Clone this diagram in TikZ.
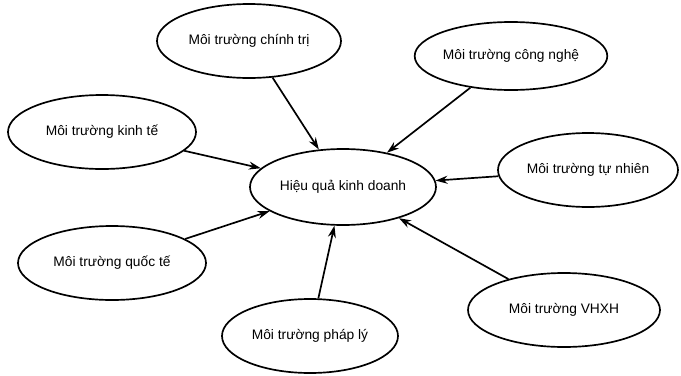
\documentclass[tikz,border=0pt]{standalone}
\usepackage{fontspec}
\setmainfont{Liberation Sans}
\usepackage{tikz}
\usetikzlibrary{shapes.geometric,arrows.meta,positioning}

\tikzset{
    envbox/.style={ellipse, draw, line width=1.2pt, minimum width=4.7cm, minimum height=1.85cm, inner sep=0pt, font=\fontsize{9.8}{11}\selectfont},
    link/.style={-{Stealth[length=3mm,width=2mm]}, line width=1.2pt}
}

\begin{document}
\begin{tikzpicture}
        \useasboundingbox (0,0) rectangle (17.025,-9.375);
        % center
        \node[envbox, minimum width=4.65cm, minimum height=1.9cm] (hq) at (8.575,-4.675) {Hiệu quả kinh doanh};
        % surrounding factors
        \node[envbox, minimum width=4.6cm] (ct) at (6.225,-1.025) {Môi trường chính trị};
        \node[envbox, minimum width=4.8cm, minimum height=1.7cm] (cn) at (12.775,-1.4) {Môi trường công nghệ};
        \node[envbox] (kt) at (2.55,-3.3) {Môi trường kinh tế};
        \node[envbox, minimum width=4.5cm] (tn) at (14.7,-4.25) {Môi trường tự nhiên};
        \node[envbox] (qt) at (2.8,-6.575) {Môi trường quốc tế};
        \node[envbox, minimum width=4.4cm] (pl) at (7.75,-8.4) {Môi trường pháp lý};
        \node[envbox, minimum width=4.8cm] (vh) at (14.1,-7.75) {Môi trường VHXH};

        \draw[link] (ct) -- (hq);
        \draw[link] (cn) -- (hq);
        \draw[link] (kt) -- (hq);
        \draw[link] (tn) -- (hq);
        \draw[link] (qt) -- (hq);
        \draw[link] (pl) -- (hq);
        \draw[link] (vh) -- (hq);
    \end{tikzpicture}
\end{document}
